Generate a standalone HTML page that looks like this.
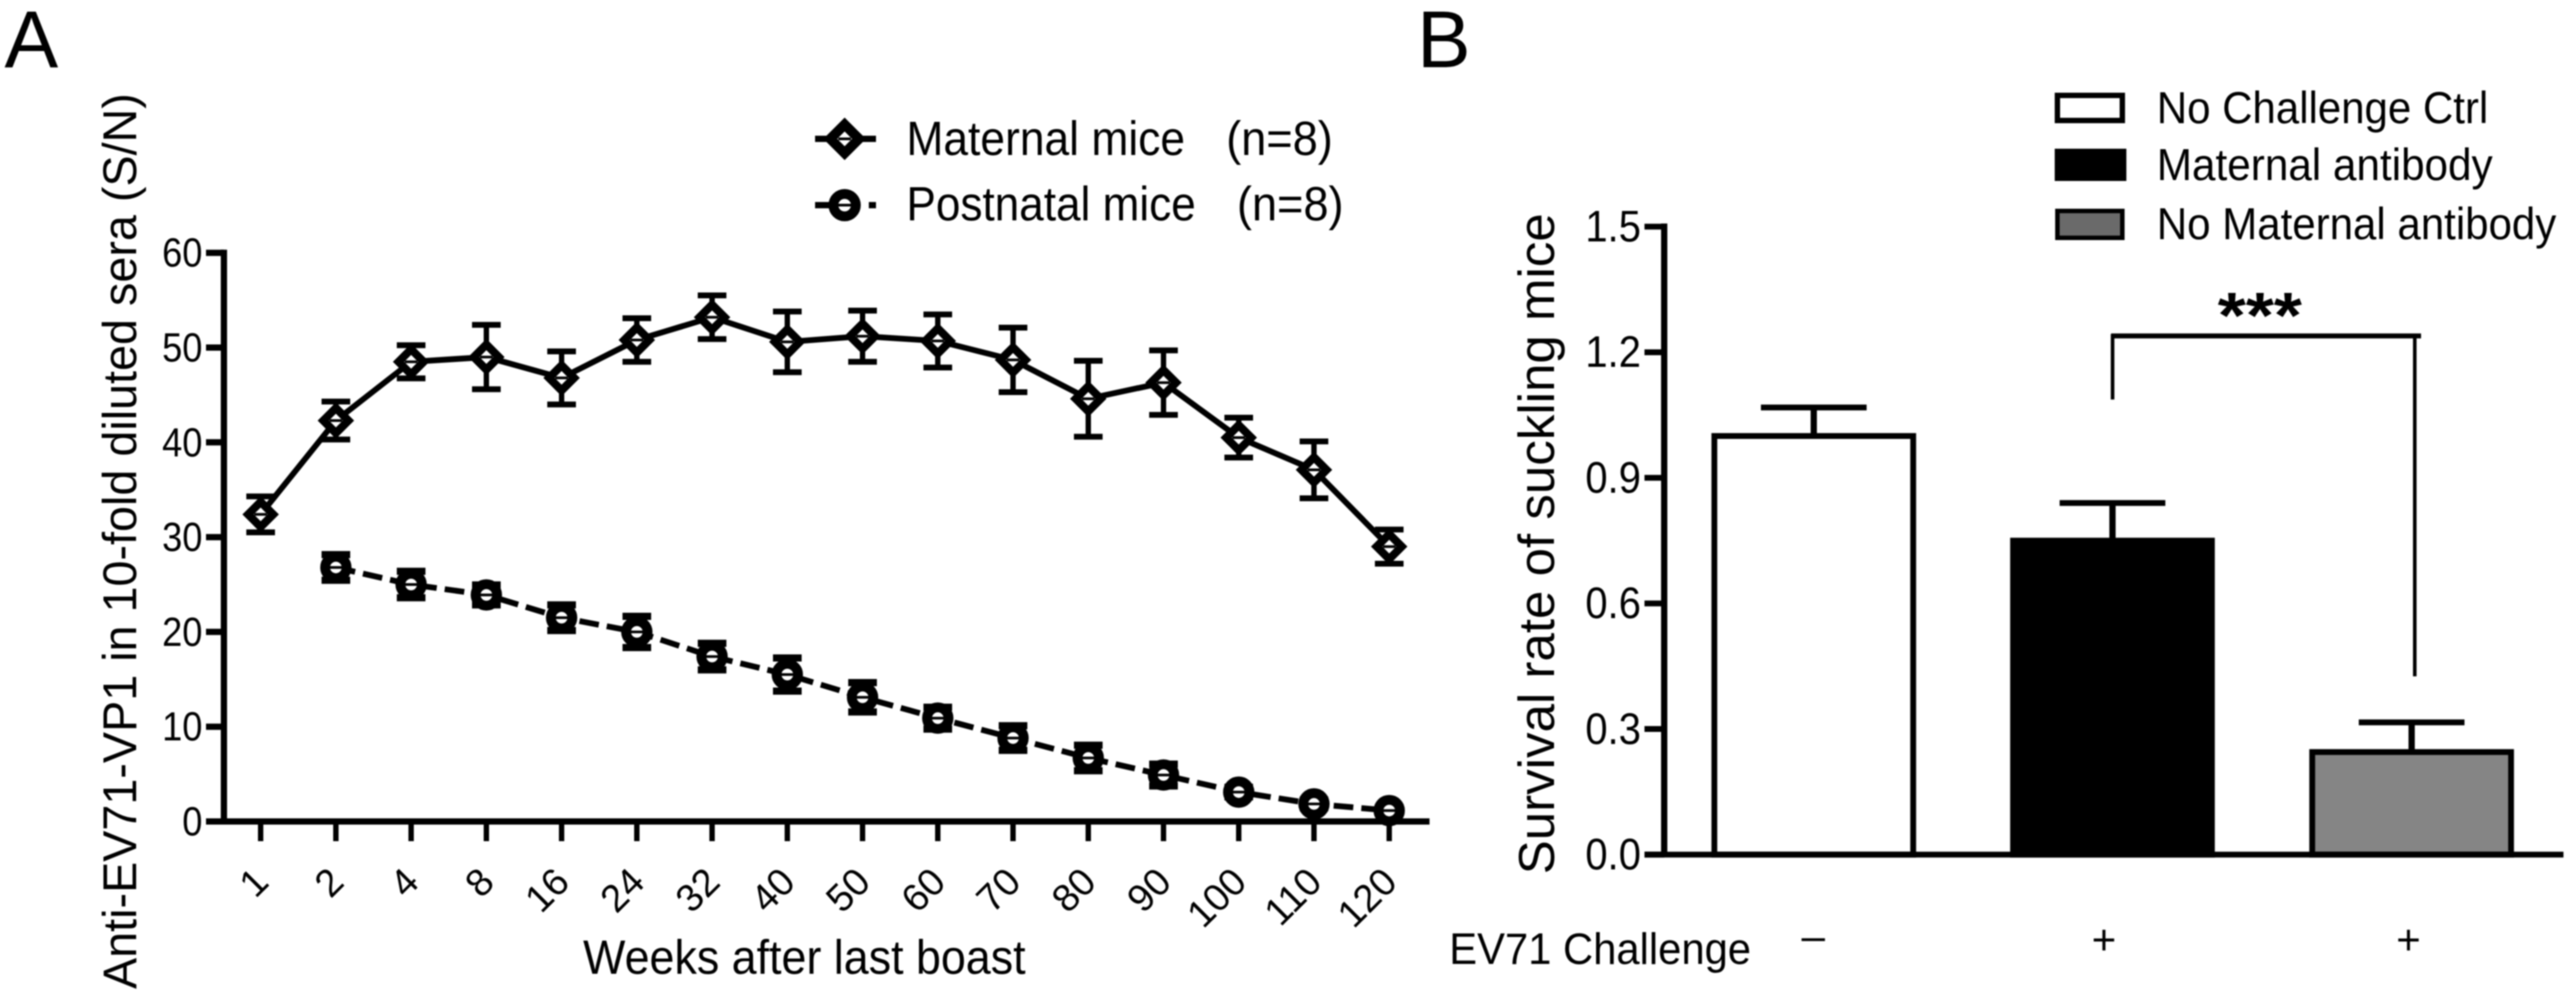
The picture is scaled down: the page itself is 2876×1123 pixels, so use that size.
<!DOCTYPE html>
<html lang="en">
<head>
<meta charset="utf-8">
<title>Anti-EV71-VP1 antibody levels and survival rate of suckling mice</title>
<style>
html,body{margin:0;padding:0;background:#fff;width:2876px;height:1123px;overflow:hidden}
svg{display:block;filter:blur(0.7px)}
text{font-family:"Liberation Sans",Arial,sans-serif;fill:#000}
</style>
</head>
<body>
<svg id="figure" xmlns="http://www.w3.org/2000/svg" width="2876" height="1123" viewBox="0 0 2876 1123">
  <rect x="0" y="0" width="2876" height="1123" fill="#fff"/>

  <!-- Panel A static text -->
  <g id="panel-a">
    <text x="5" y="75" font-size="90" textLength="60" lengthAdjust="spacingAndGlyphs">A</text>
    <text transform="translate(152,1104) rotate(-90)" font-size="53" textLength="1000" lengthAdjust="spacingAndGlyphs">Anti-EV71-VP1 in 10-fold diluted sera (S/N)</text>
    <text x="651" y="1087" font-size="54" textLength="494" lengthAdjust="spacingAndGlyphs">Weeks after last boast</text>
    <g>
      <g>
        <line x1="910" y1="155" x2="978" y2="155" stroke="#000" stroke-width="7"/>
        <path d="M943 139 L959 155 L943 171 L927 155 Z" fill="#fff" stroke="#000" stroke-width="11"/>
        <line x1="936" y1="155" x2="950" y2="155" stroke="#000" stroke-width="3"/>
        <text x="1012" y="173" font-size="54" textLength="311" lengthAdjust="spacingAndGlyphs">Maternal mice</text>
        <text x="1369" y="173" font-size="54" textLength="119" lengthAdjust="spacingAndGlyphs">(n=8)</text>
      </g>
      <g>
        <line x1="910" y1="229" x2="930" y2="229" stroke="#000" stroke-width="7"/>
        <line x1="970" y1="229" x2="978" y2="229" stroke="#000" stroke-width="7"/>
        <circle cx="943" cy="229" r="12.5" fill="#fff" stroke="#000" stroke-width="11"/>
        <line x1="936" y1="229" x2="950" y2="229" stroke="#000" stroke-width="3"/>
        <text x="1012" y="246" font-size="54" textLength="323" lengthAdjust="spacingAndGlyphs">Postnatal mice</text>
        <text x="1381" y="246" font-size="54" textLength="119" lengthAdjust="spacingAndGlyphs">(n=8)</text>
      </g>
    </g>
  </g>

  <!-- Panel B static text -->
  <g id="panel-b">
    <text x="1582" y="75" font-size="90" textLength="60" lengthAdjust="spacingAndGlyphs">B</text>
    <text transform="translate(1735,976) rotate(-90)" font-size="57" textLength="738" lengthAdjust="spacingAndGlyphs">Survival rate of suckling mice</text>
    <text x="1618" y="1076" font-size="49" textLength="337" lengthAdjust="spacingAndGlyphs">EV71 Challenge</text>
    <g>
      <rect x="2297" y="106.5" width="72.5" height="28" fill="#fff" stroke="#000" stroke-width="6"/>
      <text x="2408" y="137.5" font-size="50" textLength="370" lengthAdjust="spacingAndGlyphs">No Challenge Ctrl</text>
      <rect x="2294" y="166" width="80" height="36" fill="#000"/>
      <text x="2408" y="201" font-size="50" textLength="375" lengthAdjust="spacingAndGlyphs">Maternal antibody</text>
      <rect x="2297" y="235.5" width="72.5" height="30" fill="#6a6a6a" stroke="#000" stroke-width="5"/>
      <text x="2408" y="267" font-size="50" textLength="446" lengthAdjust="spacingAndGlyphs">No Maternal antibody</text>
    </g>
    <g>
      <line x1="2357" y1="375" x2="2703" y2="375" stroke="#000" stroke-width="5.5"/>
      <line x1="2358.6" y1="373" x2="2358.6" y2="446" stroke="#000" stroke-width="4"/>
      <line x1="2696" y1="375" x2="2696" y2="755" stroke="#000" stroke-width="4"/>
      <text x="2476" y="377" font-size="72" font-weight="700" textLength="94" lengthAdjust="spacingAndGlyphs">***</text>
    </g>
  </g>
</svg>

<script>
// ---- Panel A data ----
var weekLabels = ['1','2','4','8','16','24','32','40','50','60','70','80','90','100','110','120'];
var yTicksA = [0,10,20,30,40,50,60];
var maternalMean = [32.4,42.3,48.5,49,46.8,50.8,53.2,50.6,51.2,50.7,48.7,44.6,46.3,40.5,37.1,29];
var maternalErr  = [1.9,2.0,1.75,3.4,2.8,2.3,2.3,3.2,2.7,2.8,3.4,4.0,3.4,2.1,3.0,1.8];
var postnatalMean = [null,26.8,25,23.9,21.5,20,17.4,15.5,13.1,10.9,8.8,6.7,4.9,3.1,1.85,1.15];
var postnatalErr  = [null,1.35,1.4,1.05,1.35,1.65,1.4,1.75,1.55,1.15,1.3,1.35,1.15,0.5,0.4,0.3];

// ---- Panel B data ----
var yTicksB = ['0.0','0.3','0.6','0.9','1.2','1.5'];
var groupNames = ['no-challenge-ctrl','maternal-antibody','no-maternal-antibody'];
var survivalMean = [1.0,0.75,0.245];
var survivalErrTop = [1.068,0.84,0.316];
var challengeSigns = ['\u2013','+','+'];

var NS = 'http://www.w3.org/2000/svg';
var panelA = document.getElementById('panel-a');
var panelB = document.getElementById('panel-b');

function mk(parent, tag, attrs, txt) {
  var n = document.createElementNS(NS, tag);
  for (var k in attrs) n.setAttribute(k, attrs[k]);
  if (txt !== undefined) n.textContent = txt;
  parent.appendChild(n);
  return n;
}

// axis functions
function xA(i) { return 291 + 84 * i; }
function yA(v) { return 917 - 10.58 * v; }
function xB(i) { return [2025, 2358.5, 2692.5][i]; }
function yB(v) { return 954 - 467.3 * v; }
var BAR_W = 228;

var el;
// ---- Panel A axes ----
el = mk(panelA, 'line', {x1:250, y1:yA(60)-3.5, x2:250, y2:yA(0)+3.5, stroke:'#000', 'stroke-width':7});


el = mk(panelA, 'line', {x1:230, y1:yA(0), x2:1596, y2:yA(0), stroke:'#000', 'stroke-width':7});



yTicksA.forEach(function (t) {
  var tk = mk(panelA, 'line', {x1:230, y1:yA(t), x2:250, y2:yA(t), stroke:'#000', 'stroke-width':7});
  
  
  var lb = mk(panelA, 'text', {x:226, y:yA(t)+15.5, 'font-size':45, 'text-anchor':'end', textLength:String(t).length*22.5, lengthAdjust:'spacingAndGlyphs'}, String(t));
  
  
});

weekLabels.forEach(function (w, i) {
  var tk = mk(panelA, 'line', {x1:xA(i), y1:yA(0), x2:xA(i), y2:939, stroke:'#000', 'stroke-width':6});
  
  
  var px = xA(i) + 11, py = 987;
  var lb = mk(panelA, 'text', {x:0, y:0, 'font-size':43, 'text-anchor':'end', transform:'translate(' + px + ',' + py + ') rotate(-45)'}, w);
  
  
});

// ---- Panel A series ----
function seriesPoints(means) {
  var pts = [];
  means.forEach(function (m, i) { if (m !== null) pts.push(xA(i) + ',' + yA(m)); });
  return pts.join(' ');
}

el = mk(panelA, 'polyline', {points:seriesPoints(maternalMean), fill:'none', stroke:'#000', 'stroke-width':6.5});


el = mk(panelA, 'polyline', {points:seriesPoints(postnatalMean), fill:'none', stroke:'#000', 'stroke-width':6.5, 'stroke-dasharray':'22 9'});



function errorBars(means, errs, key, capW) {
  means.forEach(function (m, i) {
    if (m === null) return;
    var x = xA(i), top = yA(m + errs[i]), bot = yA(m - errs[i]);
    var s = mk(panelA, 'line', {x1:x, y1:top, x2:x, y2:bot, stroke:'#000', 'stroke-width':6});
    
    
    var c1 = mk(panelA, 'line', {x1:x-16, y1:top, x2:x+16, y2:top, stroke:'#000', 'stroke-width':capW});
    
    
    var c2 = mk(panelA, 'line', {x1:x-16, y1:bot, x2:x+16, y2:bot, stroke:'#000', 'stroke-width':capW});
    
    
  });
}
errorBars(maternalMean, maternalErr, 'maternal', 6.5);
errorBars(postnatalMean, postnatalErr, 'postnatal', 8);

maternalMean.forEach(function (m, i) {
  var x = xA(i), y = yA(m), r = 14;
  var p = mk(panelA, 'path', {d:'M' + x + ' ' + (y-r) + ' L' + (x+r) + ' ' + y + ' L' + x + ' ' + (y+r) + ' L' + (x-r) + ' ' + y + ' Z', fill:'#fff', stroke:'#000', 'stroke-width':9});
  
  
  var core = mk(panelA, 'line', {x1:x-7, y1:y, x2:x+7, y2:y, stroke:'#000', 'stroke-width':3});
  
  
});
postnatalMean.forEach(function (m, i) {
  if (m === null) return;
  var x = xA(i), y = yA(m);
  var p = mk(panelA, 'circle', {cx:x, cy:y, r:12, fill:'#fff', stroke:'#000', 'stroke-width':11});
  
  
  var core = mk(panelA, 'line', {x1:x-7, y1:y, x2:x+7, y2:y, stroke:'#000', 'stroke-width':3});
  
  
});

// ---- Panel B bars ----
groupNames.forEach(function (g, i) {
  var cx = xB(i), top = yB(survivalMean[i]), capY = yB(survivalErrTop[i]);
  var stem = mk(panelB, 'line', {x1:cx, y1:capY, x2:cx, y2:top, stroke:'#000', 'stroke-width':7});
  
  
  var cap = mk(panelB, 'line', {x1:cx-59, y1:capY, x2:cx+59, y2:capY, stroke:'#000', 'stroke-width':6.5});
  
  
  var fill = i === 0 ? '#fff' : (i === 1 ? '#000' : '#858585');
  var bar = mk(panelB, 'rect', {x:cx-BAR_W/2+3, y:top, width:BAR_W-6, height:yB(0)-top, fill:fill, stroke:'#000', 'stroke-width':6.5});
  
  
  var sign = mk(panelB, 'text', {x:[2024.5,2349,2689][i], y:[1061,1065,1065][i], 'font-size':47, 'text-anchor':'middle'}, challengeSigns[i]);
  
  
});

// ---- Panel B axes ----
el = mk(panelB, 'line', {x1:1858, y1:yB(1.5)-3.5, x2:1858, y2:yB(0)+3, stroke:'#000', 'stroke-width':7});


el = mk(panelB, 'line', {x1:1836, y1:yB(0), x2:2862, y2:yB(0), stroke:'#000', 'stroke-width':6.5});



yTicksB.forEach(function (t) {
  var v = parseFloat(t);
  var tk = mk(panelB, 'line', {x1:1836, y1:yB(v), x2:1858, y2:yB(v), stroke:'#000', 'stroke-width':6.5});
  
  
  var lb = mk(panelB, 'text', {x:1832, y:yB(v)+16.5, 'font-size':49, 'text-anchor':'end', textLength:62, lengthAdjust:'spacingAndGlyphs'}, t);
  
  
});
</script>
</body>
</html>
